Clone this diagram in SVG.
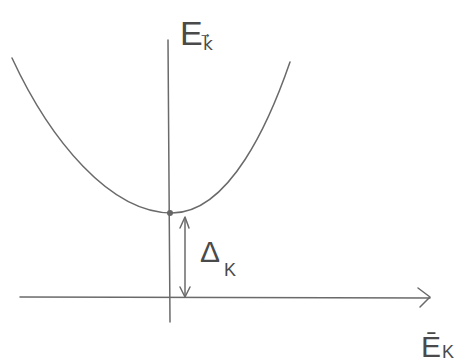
<svg xmlns="http://www.w3.org/2000/svg" width="464" height="362" viewBox="0 0 464 362">
<style>
.ln{fill:none;stroke:#6a6a6a;stroke-width:1.5;stroke-linecap:round;stroke-linejoin:round}
.t{font-family:"Liberation Sans",Arial,sans-serif;fill:#4a4a4a}
.d{font-family:"DejaVu Sans",sans-serif;fill:#4a4a4a}
</style>
<rect width="464" height="362" fill="#fff"/>
<g id="connectors">
<path class="ln" d="M20,297 L430,298"/>
<path class="ln" d="M418,288 L430,297 L420,307"/>
<path class="ln" d="M168,40 L170,322"/>
<path class="ln" d="M12,58 C50,140 110,213 172,213 C230,213 270,120 290,62"/>
<path class="ln" d="M185,218 L185,297"/>
<path class="ln" d="M180,228 L185,217 L189,228"/>
<path class="ln" d="M180,287 L185,297 L190,287"/>
</g>
<g id="vertex"><circle cx="170" cy="213" r="3" fill="#666"/></g>
<g id="label-E"><text class="t" x="180" y="45" font-size="34">E</text><text class="d" x="203" y="50" font-size="17">k⃗</text></g>
<g id="label-delta"><text class="t" x="200" y="262" font-size="30">Δ</text><text class="t" x="224" y="276" font-size="18">K</text></g>
<g id="label-xaxis"><text class="t" x="421" y="357" font-size="30">Ē</text><text class="t" x="442" y="358" font-size="18">K</text></g>
</svg>
